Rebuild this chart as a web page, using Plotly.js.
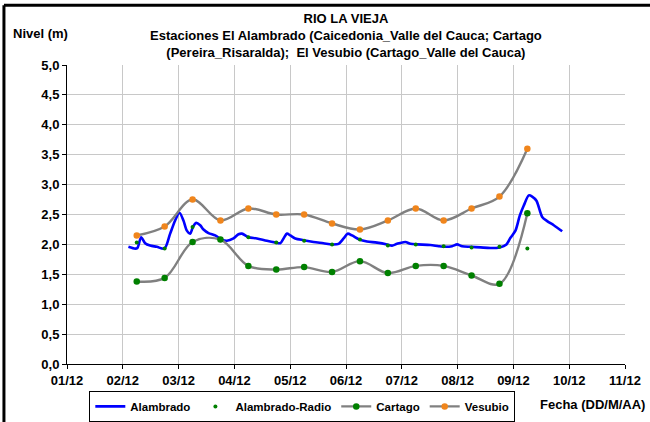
<!DOCTYPE html>
<html>
<head>
<meta charset="utf-8">
<script src="https://cdn.plot.ly/plotly-3.0.1.min.js"></script>
<style>
  html, body { margin: 0; padding: 0; background: #ffffff; }
  #chart { width: 650px; height: 422px; }
</style>
</head>
<body>
<div id="chart"></div>
<script>
// Twice-daily readings (06:00 and 18:00)
const fechasLectura = [
  '2011-12-02 06:00', '2011-12-02 18:00', '2011-12-03 06:00', '2011-12-03 18:00',
  '2011-12-04 06:00', '2011-12-04 18:00', '2011-12-05 06:00', '2011-12-05 18:00',
  '2011-12-06 06:00', '2011-12-06 18:00', '2011-12-07 06:00', '2011-12-07 18:00',
  '2011-12-08 06:00', '2011-12-08 18:00', '2011-12-09 06:00'
];
const vesubio = [2.15, 2.30, 2.75, 2.40, 2.60, 2.50, 2.50, 2.35, 2.25, 2.40, 2.60, 2.40, 2.60, 2.80, 3.60];
const cartago = [1.38, 1.44, 2.04, 2.08, 1.64, 1.58, 1.62, 1.54, 1.72, 1.52, 1.64, 1.64, 1.48, 1.34, 2.52];
const alambradoRadio = [2.03, 1.93, 2.29, 2.07, 2.12, 2.03, 2.06, 2.00, 2.08, 1.98, 2.00, 1.97, 1.95, 1.96, 1.93];

// Automatic station El Alambrado (continuous record)
const fechasAlambrado = [
  '2011-12-02 02:25', '2011-12-02 05:18', '2011-12-02 06:17', '2011-12-02 07:53', '2011-12-02 09:36',
  '2011-12-02 11:45', '2011-12-02 14:38', '2011-12-02 17:55', '2011-12-02 20:22', '2011-12-02 22:31',
  '2011-12-03 00:22', '2011-12-03 02:05', '2011-12-03 03:33', '2011-12-03 04:58', '2011-12-03 06:08',
  '2011-12-03 07:33', '2011-12-03 09:17', '2011-12-03 10:42', '2011-12-03 12:51', '2011-12-03 15:44',
  '2011-12-03 18:37', '2011-12-03 20:46', '2011-12-03 23:37', '2011-12-04 01:46', '2011-12-04 03:14',
  '2011-12-04 06:04', '2011-12-04 09:41', '2011-12-04 13:59', '2011-12-04 18:00', '2011-12-04 19:43',
  '2011-12-04 21:08', '2011-12-04 22:36', '2011-12-05 00:01', '2011-12-05 02:10', '2011-12-05 05:45',
  '2011-12-05 10:03', '2011-12-05 14:21', '2011-12-05 17:58', '2011-12-05 20:49', '2011-12-05 22:58',
  '2011-12-06 00:41', '2011-12-06 02:35', '2011-12-06 05:51', '2011-12-06 09:02', '2011-12-06 13:21',
  '2011-12-06 17:39', '2011-12-06 19:48', '2011-12-06 21:58', '2011-12-07 01:32', '2011-12-07 03:41',
  '2011-12-07 06:34', '2011-12-07 12:17', '2011-12-07 15:52', '2011-12-07 18:45', '2011-12-07 21:38',
  '2011-12-07 23:47', '2011-12-08 01:56', '2011-12-08 05:31', '2011-12-08 09:49', '2011-12-08 14:07',
  '2011-12-08 18:07', '2011-12-08 21:01', '2011-12-08 22:44', '2011-12-09 00:53', '2011-12-09 02:44',
  '2011-12-09 04:28', '2011-12-09 06:37', '2011-12-09 08:04', '2011-12-09 09:55', '2011-12-09 12:23',
  '2011-12-09 14:32', '2011-12-09 17:22', '2011-12-09 20:59'
];
const alambrado = [
  1.96, 1.93, 1.94, 2.12, 2.02,
  1.98, 1.96, 1.93, 2.18, 2.40,
  2.53, 2.40, 2.23, 2.18, 2.29,
  2.36, 2.32, 2.25, 2.19, 2.15,
  2.08, 2.06, 2.10, 2.17, 2.18,
  2.12, 2.10, 2.06, 2.03, 2.02,
  2.10, 2.18, 2.15, 2.10, 2.07,
  2.04, 2.02, 2.00, 2.01, 2.10,
  2.18, 2.15, 2.08, 2.05, 2.03,
  2.00, 1.98, 2.01, 2.04, 2.01,
  2.00, 1.99, 1.97, 1.96, 1.97,
  2.00, 1.97, 1.96, 1.95, 1.94,
  1.95, 2.00, 2.11, 2.23, 2.48,
  2.65, 2.82, 2.80, 2.73, 2.46,
  2.39, 2.32, 2.22
];

const nombres = ['Alambrado', 'Alambrado-Radio', 'Cartago', 'Vesubio'];

// Axis ticks
const ticksFecha = ['2011-12-01', '2011-12-02', '2011-12-03', '2011-12-04', '2011-12-05', '2011-12-06',
                    '2011-12-07', '2011-12-08', '2011-12-09', '2011-12-10', '2011-12-11'];
const etiquetasFecha = ['01/12', '02/12', '03/12', '04/12', '05/12', '06/12', '07/12', '08/12', '09/12', '10/12', '11/12'];
const ticksNivel = [0, 0.5, 1, 1.5, 2, 2.5, 3, 3.5, 4, 4.5, 5];
const etiquetasNivel = ['0,0', '0,5', '1,0', '1,5', '2,0', '2,5', '3,0', '3,5', '4,0', '4,5', '5,0'];

const tituloTexto = '<b>RIO LA VIEJA<br>Estaciones El Alambrado (Caicedonia_Valle del Cauca; Cartago<br>(Pereira_Risaralda);  El Vesubio (Cartago_Valle del Cauca)</b>';

const FONT = 'Liberation Sans, Arial, sans-serif';
const negrita = s => '<b>' + s + '</b>';

const traces = [
  {
    x: fechasAlambrado, y: alambrado, name: nombres[0], type: 'scatter', mode: 'lines',
    line: { color: '#0000FF', width: 2.6, shape: 'spline', smoothing: 0.8 }
  },
  {
    x: fechasLectura, y: alambradoRadio, name: nombres[1], type: 'scatter', mode: 'markers',
    marker: { color: '#008000', size: 4 }
  },
  {
    x: fechasLectura, y: cartago, name: nombres[2], type: 'scatter', mode: 'lines+markers',
    line: { color: '#808080', width: 2.4, shape: 'spline', smoothing: 1 },
    marker: { color: '#008000', size: 6.5 }
  },
  {
    x: fechasLectura, y: vesubio, name: nombres[3], type: 'scatter', mode: 'lines+markers',
    line: { color: '#808080', width: 2.4, shape: 'spline', smoothing: 1 },
    marker: { color: '#F0851C', size: 6.5 }
  }
];

const layout = {
  width: 650, height: 422,
  margin: { l: 67, r: 25, t: 65, b: 58, autoexpand: false },
  paper_bgcolor: '#ffffff', plot_bgcolor: '#ffffff',
  separators: ',.',
  font: { family: FONT, size: 12, color: '#000000' },
  xaxis: {
    type: 'date', range: [ticksFecha[0], ticksFecha[ticksFecha.length - 1]],
    tickmode: 'array', tickvals: ticksFecha, ticktext: etiquetasFecha.map(negrita),
    ticks: 'outside', ticklen: 4, tickcolor: '#000000',
    showline: true, linecolor: '#000000', linewidth: 1,
    showgrid: true, gridcolor: '#C8C8C8', gridwidth: 1,
    tickfont: { family: FONT, size: 13, color: '#000000' },
    zeroline: false, fixedrange: true, automargin: false
  },
  yaxis: {
    range: [0, 5],
    tickmode: 'array', tickvals: ticksNivel, ticktext: etiquetasNivel.map(negrita),
    ticks: 'outside', ticklen: 4, tickcolor: '#000000',
    showline: true, linecolor: '#000000', linewidth: 1,
    showgrid: true, gridcolor: '#C8C8C8', gridwidth: 1,
    tickfont: { family: FONT, size: 13, color: '#000000' },
    zeroline: false, fixedrange: true, automargin: false
  },
  showlegend: true,
  legend: {
    orientation: 'h', x: 0.04, xanchor: 'left', y: -0.09, yanchor: 'top',
    bordercolor: '#000000', borderwidth: 1, bgcolor: '#ffffff',
    font: { family: FONT, size: 11.5, color: '#000000', weight: 700 },
    itemwidth: 30, tracegroupgap: 0
  },
  annotations: [
    {
      text: tituloTexto, xref: 'paper', yref: 'paper',
      x: 0.5, y: 1.1, xanchor: 'center', yanchor: 'middle', showarrow: false,
      font: { family: FONT, size: 13, color: '#000000' }
    },
    {
      text: '<b>Nivel (m)</b>', xref: 'paper', yref: 'paper',
      x: -0.1, y: 1.107, xanchor: 'left', yanchor: 'middle', showarrow: false,
      font: { family: FONT, size: 13, color: '#000000' }
    },
    {
      text: '<b>Fecha (DD/M/AA)</b>', xref: 'paper', yref: 'paper',
      x: 1.04, y: -0.135, xanchor: 'right', yanchor: 'middle', showarrow: false,
      font: { family: FONT, size: 13, color: '#000000' }
    }
  ],
  shapes: [
    { type: 'line', xref: 'paper', yref: 'paper', x0: -0.113, x1: -0.113, y0: 1.2, y1: -0.2,
      line: { color: '#000000', width: 3 } },
    { type: 'line', xref: 'paper', yref: 'paper', x0: -0.113, x1: 1.06, y0: 1.2, y1: 1.2,
      line: { color: '#000000', width: 3 } }
  ]
};

Plotly.newPlot('chart', traces, layout, { displayModeBar: false, staticPlot: true });
</script>
</body>
</html>
